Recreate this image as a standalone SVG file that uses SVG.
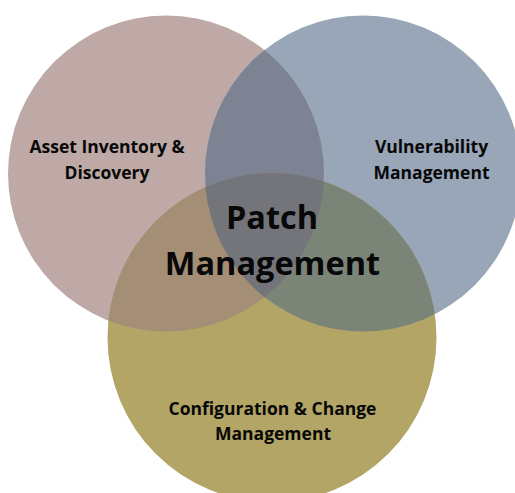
<svg xmlns="http://www.w3.org/2000/svg" width="515" height="493" viewBox="0 0 515 493">
  <style>
    .lbl { font-family: "Open Sans", "Liberation Sans", sans-serif; font-weight: 700; fill: #080808; text-anchor: middle; font-size: 17.5px; }
    .big { font-size: 32.5px; }
  </style>
  <defs>
    <clipPath id="cL"><circle cx="166" cy="173.5" r="158"/></clipPath>
    <clipPath id="cR"><circle cx="363" cy="173.5" r="158"/></clipPath>
    <clipPath id="cB"><circle cx="272" cy="337.5" r="164.5"/></clipPath>
  </defs>
  <rect width="515" height="493" fill="#ffffff"/>
  <g id="asset-inventory">
    <circle cx="166" cy="173.5" r="158" fill="#bea9a6"/>
  </g>
  <g id="vulnerability">
    <circle cx="363" cy="173.5" r="158" fill="#98a6b7"/>
  </g>
  <g id="configuration">
    <circle cx="272" cy="337.5" r="164.5" fill="#b3a566"/>
  </g>
  <g id="overlaps">
    <g clip-path="url(#cL)"><circle cx="363" cy="173.5" r="158" fill="#7e8393"/></g>
    <g clip-path="url(#cL)"><circle cx="272" cy="337.5" r="164.5" fill="#a48e76"/></g>
    <g clip-path="url(#cR)"><circle cx="272" cy="337.5" r="164.5" fill="#7a8578"/></g>
    <g clip-path="url(#cL)"><g clip-path="url(#cR)"><circle cx="272" cy="337.5" r="164.5" fill="#73757a"/></g></g>
  </g>
  <g id="labels">
    <text class="lbl" x="107" y="153">Asset Inventory &amp;</text>
    <text class="lbl" x="107" y="178.5">Discovery</text>
    <text class="lbl" x="431.5" y="153">Vulnerability</text>
    <text class="lbl" x="431.5" y="178.5">Management</text>
    <text class="lbl" x="272.5" y="415">Configuration &amp; Change</text>
    <text class="lbl" x="273" y="440">Management</text>
  </g>
  <g id="patch-management">
    <text class="lbl big" x="272" y="229">Patch</text>
    <text class="lbl big" x="272.5" y="275">Management</text>
  </g>
</svg>
